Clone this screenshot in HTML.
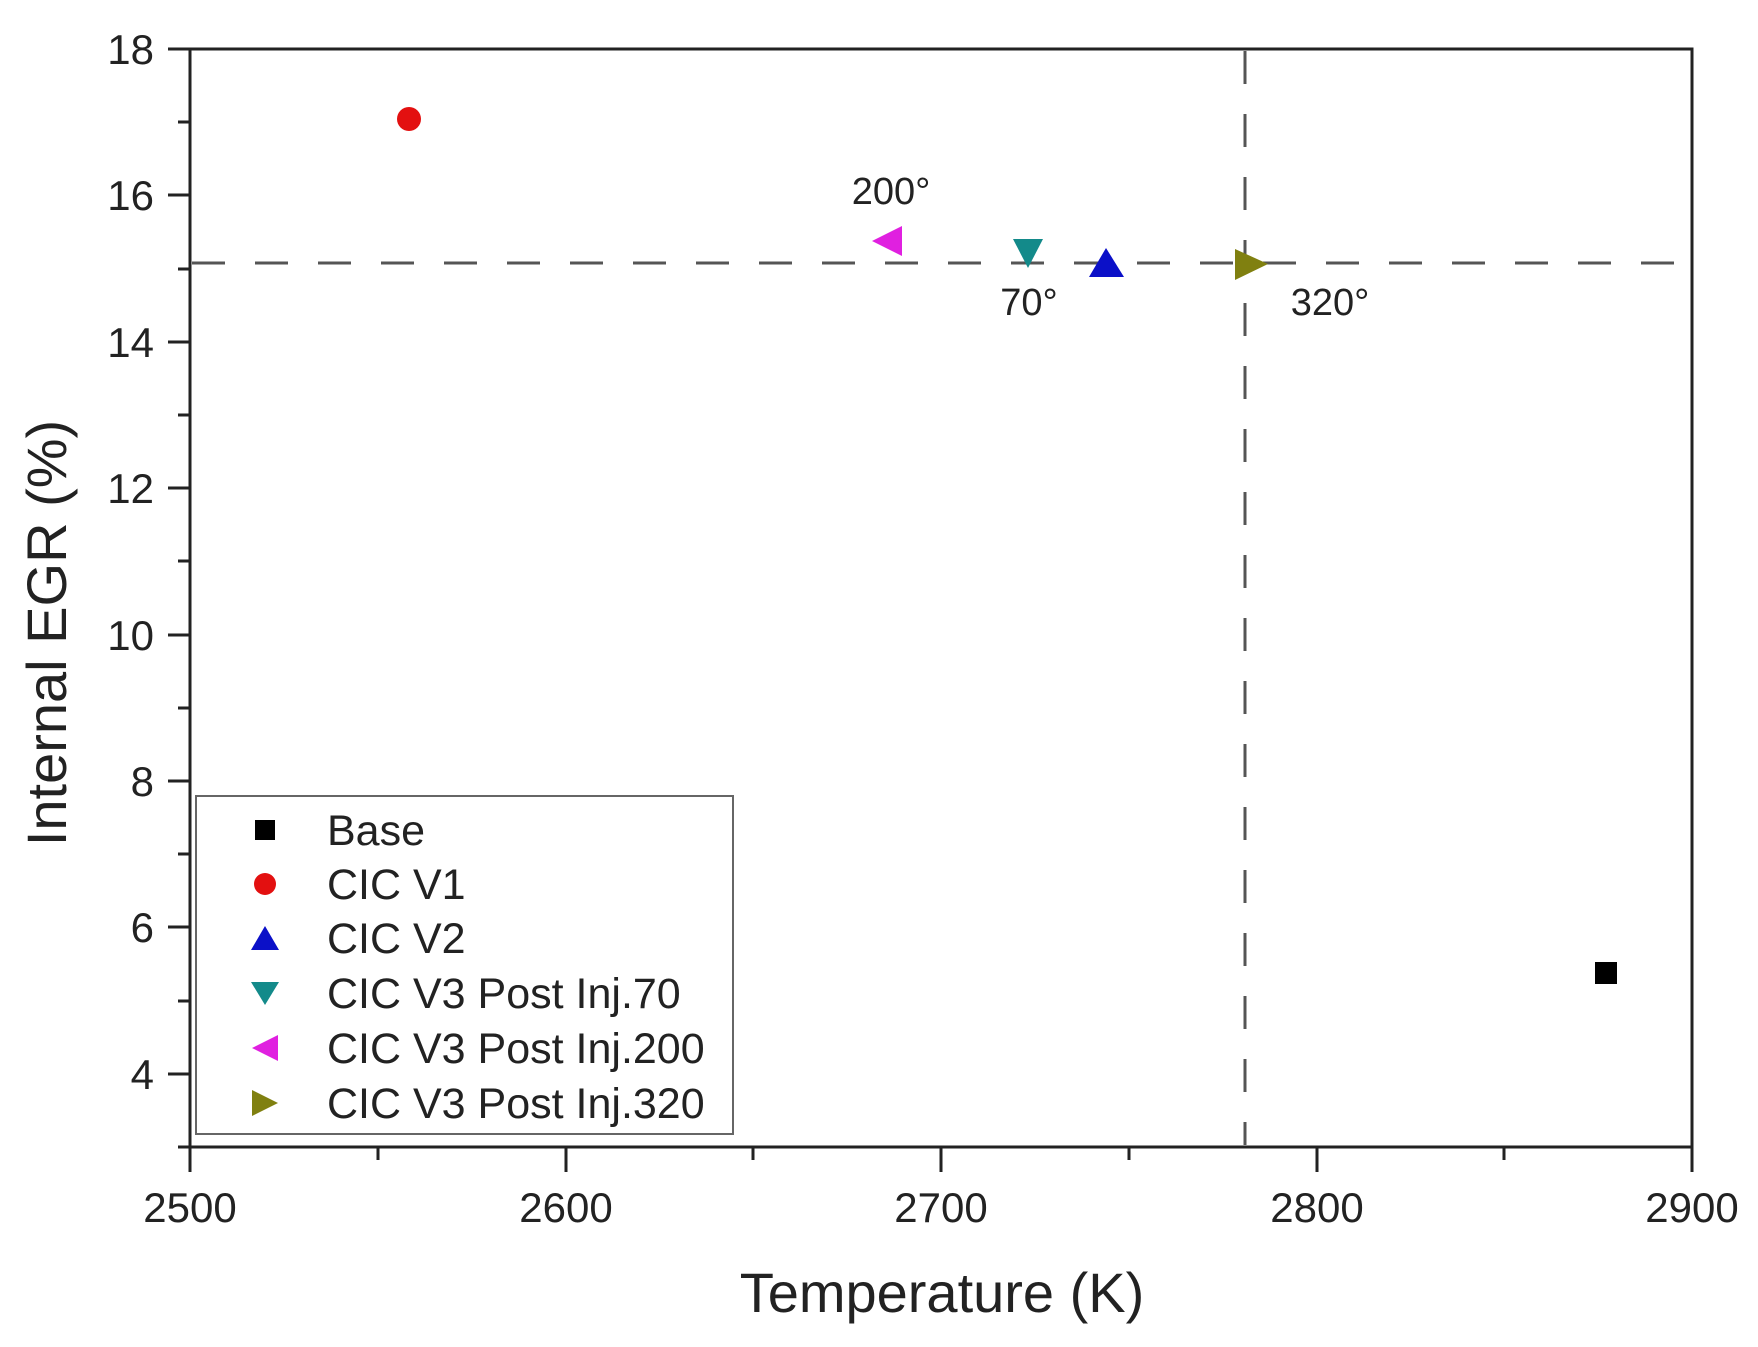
<!DOCTYPE html>
<html><head><meta charset="utf-8"><style>html,body{margin:0;padding:0;background:#fff}svg{display:block}</style></head>
<body>
<svg width="1758" height="1347" viewBox="0 0 1758 1347" xmlns="http://www.w3.org/2000/svg" font-family="Liberation Sans, sans-serif" fill="#222">
<g stroke="#555" stroke-width="3" stroke-dasharray="33,30">
<line x1="192" y1="263" x2="1690" y2="263"/>
<line x1="1245" y1="51" x2="1245" y2="1145"/>
</g>
<rect x="190" y="49" width="1502" height="1098" fill="none" stroke="#222" stroke-width="3"/>
<g stroke="#222" stroke-width="3">
<line x1="168" y1="49" x2="190" y2="49"/><line x1="178" y1="122" x2="190" y2="122"/>
<line x1="168" y1="195" x2="190" y2="195"/><line x1="178" y1="269" x2="190" y2="269"/>
<line x1="168" y1="342" x2="190" y2="342"/><line x1="178" y1="415" x2="190" y2="415"/>
<line x1="168" y1="488" x2="190" y2="488"/><line x1="178" y1="561" x2="190" y2="561"/>
<line x1="168" y1="635" x2="190" y2="635"/><line x1="178" y1="708" x2="190" y2="708"/>
<line x1="168" y1="781" x2="190" y2="781"/><line x1="178" y1="854" x2="190" y2="854"/>
<line x1="168" y1="927" x2="190" y2="927"/><line x1="178" y1="1001" x2="190" y2="1001"/>
<line x1="168" y1="1074" x2="190" y2="1074"/><line x1="178" y1="1147" x2="190" y2="1147"/>
<line x1="190" y1="1147" x2="190" y2="1172"/><line x1="378" y1="1147" x2="378" y2="1160"/>
<line x1="566" y1="1147" x2="566" y2="1172"/><line x1="753" y1="1147" x2="753" y2="1160"/>
<line x1="941" y1="1147" x2="941" y2="1172"/><line x1="1129" y1="1147" x2="1129" y2="1160"/>
<line x1="1317" y1="1147" x2="1317" y2="1172"/><line x1="1504" y1="1147" x2="1504" y2="1160"/>
<line x1="1692" y1="1147" x2="1692" y2="1172"/>
</g>
<g font-size="42" text-anchor="end">
<text x="154" y="64">18</text><text x="154" y="210">16</text><text x="154" y="357">14</text>
<text x="154" y="503">12</text><text x="154" y="650">10</text><text x="154" y="796">8</text>
<text x="154" y="942">6</text><text x="154" y="1089">4</text>
</g>
<g font-size="42" text-anchor="middle">
<text x="190" y="1222">2500</text><text x="566" y="1222">2600</text><text x="941" y="1222">2700</text>
<text x="1317" y="1222">2800</text><text x="1692" y="1222">2900</text>
</g>
<text x="942" y="1312" font-size="56" text-anchor="middle">Temperature (K)</text>
<text transform="translate(66,633) rotate(-90)" font-size="56" text-anchor="middle">Internal EGR (%)</text>
<g font-size="38" text-anchor="middle">
<text x="891" y="204">200°</text><text x="1029" y="315">70°</text><text x="1330" y="315">320°</text>
</g>
<circle cx="409" cy="119" r="12" fill="#e31010"/>
<polygon points="872,241 902,226 902,256" fill="#e020e0"/>
<polygon points="1013,239 1043,239 1028,268" fill="#138a8a"/>
<polygon points="1089,277 1124,277 1106,248" fill="#0b10c8"/>
<polygon points="1235,249 1268,264 1235,280" fill="#808010"/>
<rect x="1595" y="962" width="22" height="22" fill="#000"/>
<rect x="196" y="796" width="537" height="338" fill="#fff" stroke="#666" stroke-width="2"/>
<rect x="255" y="820" width="20" height="20" fill="#000"/>
<circle cx="265" cy="884" r="11" fill="#e31010"/>
<polygon points="251,950 279,950 265,926" fill="#0b10c8"/>
<polygon points="251,982 279,982 265,1005" fill="#138a8a"/>
<polygon points="252,1048 278,1035 278,1061" fill="#e020e0"/>
<polygon points="252,1090 278,1103 252,1116" fill="#808010"/>
<g font-size="43">
<text x="327" y="845">Base</text><text x="327" y="899">CIC V1</text><text x="327" y="953">CIC V2</text>
<text x="327" y="1008">CIC V3 Post Inj.70</text><text x="327" y="1063">CIC V3 Post Inj.200</text>
<text x="327" y="1118">CIC V3 Post Inj.320</text>
</g>
</svg>
</body></html>
